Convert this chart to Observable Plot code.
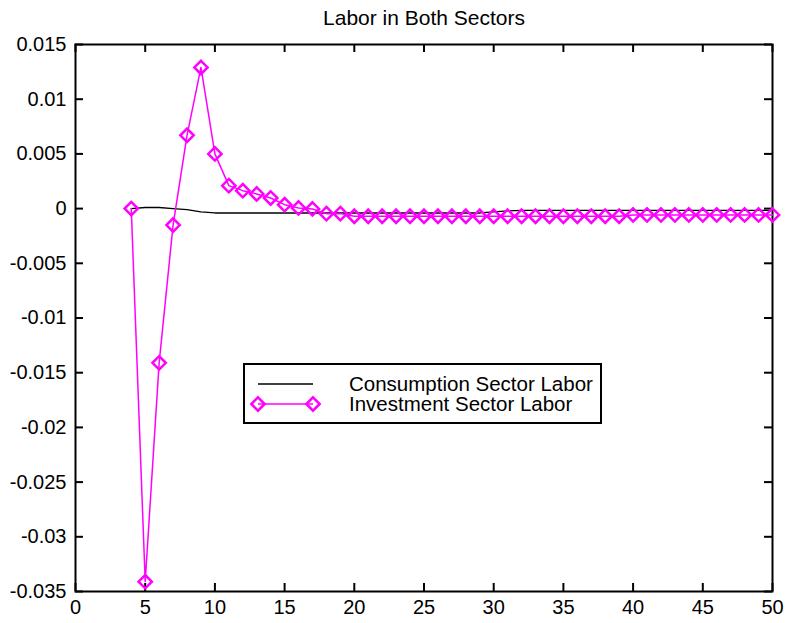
<!DOCTYPE html>
<html>
<head>
<meta charset="utf-8">
<script src="https://cdn.jsdelivr.net/npm/d3@7"></script>
<script src="https://cdn.jsdelivr.net/npm/@observablehq/plot@0.6"></script>
<style>
  html, body { margin: 0; padding: 0; background: white; }
  #wrap { position: relative; width: 788px; height: 623px; font-family: "Liberation Sans", Arial, Helvetica, sans-serif; }
  #legend { position: absolute; left: 243px; top: 363px; width: 359px; height: 61px; box-sizing: border-box; border: 2px solid black; background: white; }
</style>
</head>
<body>
<div id="wrap"></div>
<script>
const title = "Labor in Both Sectors";
const seriesNames = ["Consumption Sector Labor", "Investment Sector Labor"];

const periods = [4,5,6,7,8,9,10,11,12,13,14,15,16,17,18,19,20,21,22,23,24,25,26,27,28,29,30,31,32,33,34,35,36,37,38,39,40,41,42,43,44,45,46,47,48,49,50];

const consumption = [0, 0.0001, 0.0001, 0.0000, -0.0001, -0.0003, -0.0004, -0.0004, -0.0004, -0.0004,
  -0.0004, -0.0004, -0.0004, -0.0004, -0.0004, -0.0004, -0.0004, -0.0004, -0.0004, -0.0004,
  -0.0004, -0.0004, -0.0004, -0.0004, -0.0004, -0.0004, -0.0003, -0.0002, -0.00016, -0.00016,
  -0.00016, -0.00016, -0.00016, -0.00016, -0.00016, -0.00016, -0.00016, -0.00016, -0.00016, -0.00016,
  -0.00016, -0.00016, -0.00016, -0.00016, -0.00016, -0.00016, -0.00016];

const investment = [0, -0.0341, -0.0141, -0.0015, 0.0067, 0.0129, 0.0050, 0.0021, 0.00164, 0.00134,
  0.00097, 0.00036, 0.00006, -0.00003, -0.00046, -0.00046, -0.0007, -0.0007, -0.0007, -0.0007,
  -0.0007, -0.0007, -0.0007, -0.0007, -0.0007, -0.0007, -0.0007, -0.0007, -0.0007, -0.0007,
  -0.0007, -0.0007, -0.0007, -0.0007, -0.0007, -0.0007, -0.00058, -0.00058, -0.00058, -0.00058,
  -0.00058, -0.00058, -0.00058, -0.00058, -0.00058, -0.00058, -0.00058];

const xTicks = [0, 5, 10, 15, 20, 25, 30, 35, 40, 45, 50];
const yTicks = [-0.035, -0.03, -0.025, -0.02, -0.015, -0.01, -0.005, 0, 0.005, 0.01, 0.015];

const consData = periods.map((p, i) => ({x: p, y: consumption[i]}));
const invData = periods.map((p, i) => ({x: p, y: investment[i]}));

const fmt = d => d === 0 ? "0" : String(+d.toFixed(3));
const magenta = "#ff00ff";

const W = 788, H = 623, mL = 75, mR = 16, mT = 44, mB = 32;
const tickLen = 8;
const frameW = W - mL - mR, frameH = H - mT - mB;

const chart = Plot.plot({
  width: W,
  height: H,
  marginLeft: mL,
  marginRight: mR,
  marginTop: mT,
  marginBottom: mB,
  style: {fontFamily: "'Liberation Sans', Arial, Helvetica, sans-serif", fontSize: "20px", background: "white"},
  x: {domain: [0, 50], axis: null},
  y: {domain: [-0.035, 0.015], axis: null},
  marks: [
    // inward ticks on all four sides
    Plot.ruleX(xTicks, {x: d => d, insetTop: frameH - tickLen, stroke: "black", strokeWidth: 2}),
    Plot.ruleX(xTicks, {x: d => d, insetBottom: frameH - tickLen, stroke: "black", strokeWidth: 2}),
    Plot.ruleY(yTicks, {y: d => d, insetRight: frameW - tickLen, stroke: "black", strokeWidth: 2}),
    Plot.ruleY(yTicks, {y: d => d, insetLeft: frameW - tickLen, stroke: "black", strokeWidth: 2}),
    Plot.frame({stroke: "black", strokeWidth: 2}),
    Plot.axisX({ticks: xTicks, anchor: "bottom", tickSize: 0, tickPadding: 8, tickFormat: fmt, fontSize: 20, fill: "black", label: null}),
    Plot.axisY({ticks: yTicks, anchor: "left", tickSize: 0, tickPadding: 9, tickFormat: fmt, fontSize: 20, fill: "black", label: null}),
    Plot.line(consData, {x: "x", y: "y", stroke: "black", strokeWidth: 1.3}),
    Plot.line(invData, {x: "x", y: "y", stroke: magenta, strokeWidth: 1.5}),
    Plot.dot(invData, {x: "x", y: "y", symbol: "diamond2", r: 6, stroke: magenta, strokeWidth: 2.5, fill: "none"}),
    Plot.text([title], {frameAnchor: "top", lineAnchor: "middle", dy: -26, fontSize: 21, fill: "black"})
  ]
});

const wrap = document.getElementById("wrap");
wrap.appendChild(chart);

// Legend
const legend = document.createElement("div");
legend.id = "legend";
const ns = "http://www.w3.org/2000/svg";
const lsvg = document.createElementNS(ns, "svg");
lsvg.setAttribute("width", "355");
lsvg.setAttribute("height", "57");
lsvg.style.display = "block";
const items = [
  {name: seriesNames[0], stroke: "black", width: 1.3, marker: false, y: 19},
  {name: seriesNames[1], stroke: magenta, width: 1.5, marker: true, y: 39}
];
const diamond = d3.symbol(d3.symbolDiamond2, Math.PI * 36)();
items.forEach(it => {
  const ln = document.createElementNS(ns, "line");
  ln.setAttribute("x1", 13); ln.setAttribute("x2", 68);
  ln.setAttribute("y1", it.y); ln.setAttribute("y2", it.y);
  ln.setAttribute("stroke", it.stroke); ln.setAttribute("stroke-width", it.width);
  lsvg.appendChild(ln);
  if (it.marker) {
    [13, 68].forEach(cx => {
      const p = document.createElementNS(ns, "path");
      p.setAttribute("d", diamond);
      p.setAttribute("transform", `translate(${cx},${it.y})`);
      p.setAttribute("fill", "none");
      p.setAttribute("stroke", it.stroke);
      p.setAttribute("stroke-width", 2.5);
      lsvg.appendChild(p);
    });
  }
  const t = document.createElementNS(ns, "text");
  t.setAttribute("x", 104);
  t.setAttribute("y", it.y + 7);
  t.setAttribute("font-size", "20.5px");
  t.setAttribute("font-family", "'Liberation Sans', Arial, Helvetica, sans-serif");
  t.setAttribute("fill", "black");
  t.textContent = it.name;
  lsvg.appendChild(t);
});
legend.appendChild(lsvg);
wrap.appendChild(legend);
</script>
</body>
</html>
